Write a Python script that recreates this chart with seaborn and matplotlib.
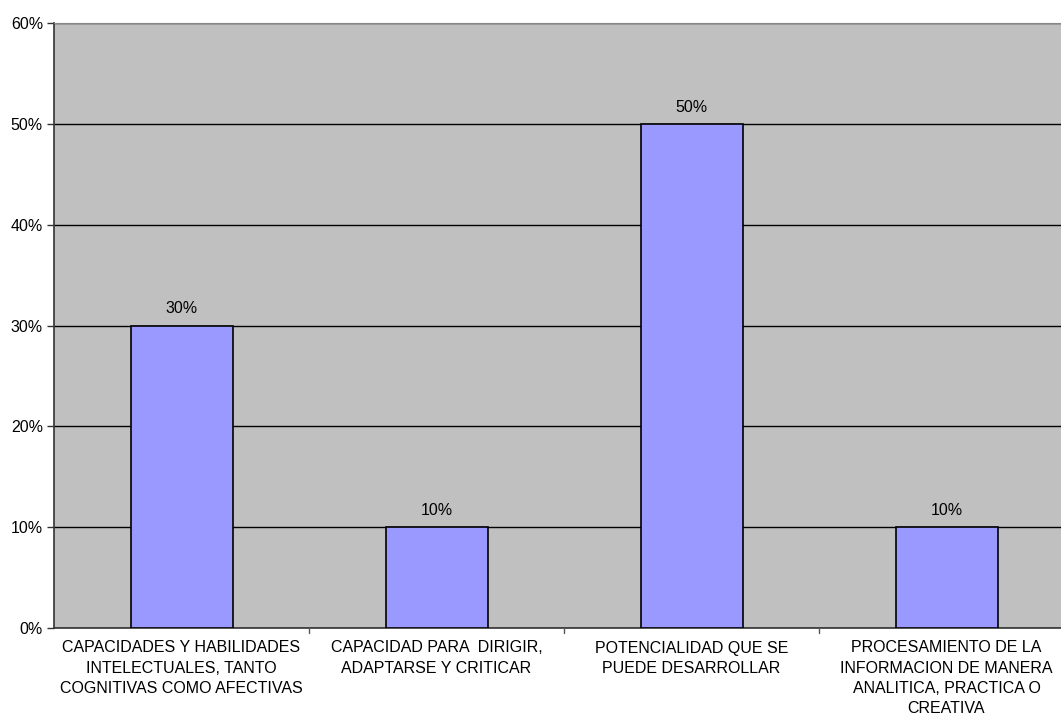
import matplotlib
matplotlib.use("Agg")
import matplotlib.pyplot as plt
import seaborn as sns
import pandas as pd
from matplotlib.ticker import PercentFormatter, MultipleLocator

categories = [
    "CAPACIDADES Y HABILIDADES\nINTELECTUALES, TANTO\nCOGNITIVAS COMO AFECTIVAS",
    "CAPACIDAD PARA  DIRIGIR,\nADAPTARSE Y CRITICAR",
    "POTENCIALIDAD QUE SE\nPUEDE DESARROLLAR",
    "PROCESAMIENTO DE LA\nINFORMACION DE MANERA\nANALITICA, PRACTICA O\nCREATIVA",
]
values = [30, 10, 50, 10]
value_labels = ["30%", "10%", "50%", "10%"]

sns.set_style("white")
plt.rcParams["font.family"] = ["Liberation Sans", "DejaVu Sans"]

df = pd.DataFrame({"cat": categories, "val": values})

fig = plt.figure(figsize=(10.61, 7.18), dpi=100)
# the plot area runs slightly past the right edge of the figure
ax = fig.add_axes([54 / 1061, 90 / 718, 1020 / 1061, 605 / 718])
ax.set_facecolor("#C0C0C0")

sns.barplot(data=df, x="cat", y="val", color="#9999FF", width=0.40,
            edgecolor="black", linewidth=1.2, saturation=1, ax=ax, zorder=3)

ax.set_ylim(0, 60)
ax.set_xlim(-0.5, 3.5)
ax.yaxis.set_major_locator(MultipleLocator(10))
ax.yaxis.set_major_formatter(PercentFormatter(decimals=0))
ax.grid(axis="y", color="black", linewidth=1.0, zorder=1)
ax.set_axisbelow(True)

for i, (v, lab) in enumerate(zip(values, value_labels)):
    ax.text(i, v + 0.9, lab, ha="center", va="bottom", fontsize=11.5, color="black")

ax.set_xlabel("")
ax.set_ylabel("")
ax.set_xticks(range(len(categories)))
ax.set_xticklabels(categories, fontsize=11.5, linespacing=1.42, color="black")
ax.tick_params(axis="x", length=0, pad=9)
ax.tick_params(axis="y", length=5, width=1, color="#333333", labelsize=11.5,
               labelcolor="black", pad=3, left=True)

# category boundary ticks below the axis
for b in [0.5, 1.5, 2.5]:
    ax.plot([b, b], [0, -0.5], color="#555555", linewidth=1, clip_on=False, zorder=4)

ax.spines["right"].set_visible(False)
ax.spines["top"].set_color("#888888")
ax.spines["left"].set_color("#333333")
ax.spines["bottom"].set_color("#333333")
ax.spines["left"].set_linewidth(1.2)
ax.spines["bottom"].set_linewidth(1.2)

fig.savefig("out.png", dpi=100)
